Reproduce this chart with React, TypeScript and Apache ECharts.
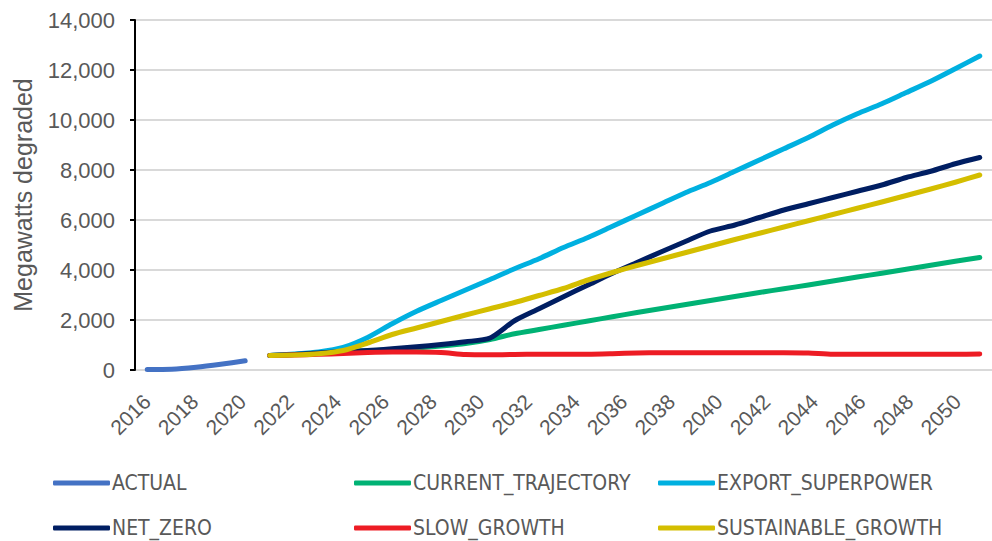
import React, { useEffect, useRef } from "react";
import * as echarts from "echarts";

const years = [
  "2016", "2017", "2018", "2019", "2020", "2021", "2022", "2023", "2024", "2025",
  "2026", "2027", "2028", "2029", "2030", "2031", "2032", "2033", "2034", "2035",
  "2036", "2037", "2038", "2039", "2040", "2041", "2042", "2043", "2044", "2045",
  "2046", "2047", "2048", "2049", "2050",
];

// 2016-2020
const actual = [20, 30, 110, 230, 370];

// 2021-2050
const currentTrajectory = [
  580, 620, 660, 720, 770, 820, 880, 960, 1060, 1220,
  1450, 1620, 1790, 1960, 2130, 2300, 2460, 2620, 2780, 2940,
  3100, 3250, 3400, 3560, 3720, 3870, 4030, 4190, 4350, 4500,
];
const exportSuperpower = [
  580, 640, 720, 900, 1300, 1850, 2350, 2780, 3200, 3620,
  4050, 4450, 4900, 5300, 5750, 6200, 6650, 7100, 7500, 7950,
  8400, 8850, 9300, 9800, 10250, 10650, 11100, 11550, 12050, 12560,
];
const netZero = [
  580, 620, 680, 740, 780, 850, 930, 1020, 1130, 1280,
  1970, 2450, 2930, 3400, 3870, 4300, 4730, 5150, 5560, 5800,
  6100, 6400, 6650, 6900, 7150, 7400, 7700, 7950, 8250, 8500,
];
const slowGrowth = [
  580, 600, 630, 660, 700, 720, 720, 700, 620, 610,
  620, 630, 630, 630, 650, 680, 690, 690, 690, 690,
  690, 690, 680, 630, 630, 630, 630, 630, 630, 640,
];
const sustainableGrowth = [
  580, 600, 650, 780, 1080, 1420, 1680, 1940, 2200, 2450,
  2700, 2980, 3260, 3600, 3900, 4180, 4440, 4700, 4960, 5220,
  5470, 5720, 5970, 6220, 6470, 6720, 6980, 7240, 7510, 7800,
];

const yTicks = [0, 2000, 4000, 6000, 8000, 10000, 12000, 14000];

const names = [
  "ACTUAL",
  "CURRENT_TRAJECTORY",
  "EXPORT_SUPERPOWER",
  "NET_ZERO",
  "SLOW_GROWTH",
  "SUSTAINABLE_GROWTH",
];
const colors = ["#4472C4", "#00B274", "#00B0E0", "#001E62", "#ED1C24", "#D4BE00"];

export default function App() {
  const ref = useRef<HTMLDivElement>(null);

  useEffect(() => {
    if (!ref.current) return;
    const chart = echarts.init(ref.current, undefined, { renderer: "svg" });

    const pad = (arr: number[], before: number) => {
      const out: (number | null)[] = [];
      for (let i = 0; i < before; i++) out.push(null);
      for (const v of arr) out.push(v);
      while (out.length < years.length) out.push(null);
      return out;
    };

    const dataSets = [
      pad(actual, 0),
      pad(currentTrajectory, 5),
      pad(exportSuperpower, 5),
      pad(netZero, 5),
      pad(slowGrowth, 5),
      pad(sustainableGrowth, 5),
    ];

    const font = "'Liberation Sans', Arial, sans-serif";
    const legendFont = "'Liberation Sans Narrow', 'DejaVu Sans Condensed', 'Arial Narrow', sans-serif";
    const legendPos = [
      { left: 53, top: 471 },
      { left: 354, top: 471 },
      { left: 658, top: 471 },
      { left: 53, top: 516 },
      { left: 354, top: 516 },
      { left: 658, top: 516 },
    ];

    chart.setOption({
      animation: false,
      backgroundColor: "#ffffff",
      grid: [
        { left: 135, top: 20, height: 350, right: 0 },
        { left: 135, top: 20, height: 350, width: 834 },
      ],
      xAxis: [
        {
          type: "category",
          gridIndex: 0,
          data: years,
          boundaryGap: true,
          axisLine: { show: false },
          axisTick: { show: false },
          axisLabel: { show: false },
          splitLine: { show: false },
        },
        {
          type: "category",
          gridIndex: 1,
          data: years,
          boundaryGap: true,
          axisLine: { show: false },
          axisTick: { show: false },
          axisLabel: {
            interval: 1,
            rotate: 45,
            fontSize: 21,
            color: "#595959",
            fontFamily: font,
            margin: 28,
          },
          splitLine: { show: false },
        },
      ],
      yAxis: [
        {
          type: "value",
          gridIndex: 0,
          min: yTicks[0],
          max: yTicks[yTicks.length - 1],
          interval: 2000,
          name: "Megawatts degraded",
          nameLocation: "middle",
          nameGap: 100,
          nameTextStyle: {
            fontSize: 25,
            color: "#595959",
            fontFamily: font,
          },
          axisLine: { show: true, lineStyle: { color: "#000000", width: 2 } },
          axisTick: { show: true, length: 5, lineStyle: { color: "#000000", width: 2 } },
          axisLabel: {
            fontSize: 22,
            color: "#595959",
            fontFamily: font,
            margin: 20,
            formatter: (v: number) => v.toLocaleString("en-US"),
          },
          splitLine: { show: true, lineStyle: { color: "#D9D9D9", width: 2 } },
        },
        {
          type: "value",
          gridIndex: 1,
          min: yTicks[0],
          max: yTicks[yTicks.length - 1],
          interval: 2000,
          show: false,
        },
      ],
      legend: names.map((n, i) => ({
        data: [n],
        left: legendPos[i].left,
        top: legendPos[i].top,
        orient: "horizontal",
        icon: "roundRect",
        itemWidth: 57,
        itemHeight: 5,
        padding: 0,
        selectedMode: false,
        textStyle: {
          fontSize: 21,
          lineHeight: 24,
          color: "#595959",
          fontFamily: legendFont,
          padding: [0, 0, 0, -3],
        },
      })),
      series: names.map((n, i) => ({
        name: n,
        type: "line",
        xAxisIndex: 0,
        yAxisIndex: 0,
        data: dataSets[i],
        smooth: 0.25,
        showSymbol: false,
        symbol: "none",
        connectNulls: false,
        color: colors[i],
        lineStyle: { color: colors[i], width: 5, cap: "round", join: "round" },
        z: 2 + i,
      })),
    });

    return () => chart.dispose();
  }, []);

  return (
    <div
      ref={ref}
      style={{ position: "fixed", left: 0, top: 0, width: 992, height: 541, background: "#fff" }}
    />
  );
}
